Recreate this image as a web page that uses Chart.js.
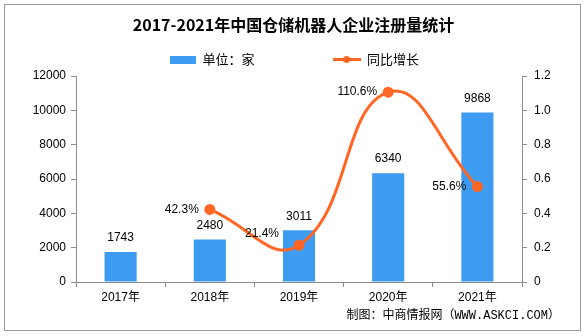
<!DOCTYPE html>
<html>
<head>
<meta charset="utf-8">
<title>2017-2021年中国仓储机器人企业注册量统计</title>
<script src="https://cdn.jsdelivr.net/npm/chart.js@4.4.1/dist/chart.umd.min.js"></script>
<style>
  html, body { margin: 0; padding: 0; background: #fff; }
</style>
</head>
<body>
<canvas id="grafico" width="587" height="336"></canvas>
<script>
const years = ['2017年', '2018年', '2019年', '2020年', '2021年'];
const companies = [1743, 2480, 3011, 6340, 9868];
const growth = [null, 0.423, 0.214, 1.106, 0.556];

const BLUE = '#3d9cf2';
const ORANGE = '#ff6624';
const AXIS = '#8c8c8c';
const FONT = '"Liberation Sans", "Noto Sans CJK SC", sans-serif';
const CJK = '"Noto Sans CJK SC", sans-serif';

// little pictures used as legend markers (bar swatch / line with dot)
function legendIcon(kind) {
    const c = document.createElement('canvas');
    const g = c.getContext('2d');
    if (kind === 'bar') {
        c.width = 28; c.height = 8;
        g.fillStyle = BLUE;
        g.fillRect(2, 0, 26, 8);
    } else {
        c.width = 28; c.height = 9;
        g.strokeStyle = ORANGE;
        g.lineWidth = 3;
        g.beginPath(); g.moveTo(0, 4.5); g.lineTo(28, 4.5); g.stroke();
        g.fillStyle = ORANGE;
        g.beginPath(); g.arc(14, 4.5, 3.5, 0, Math.PI * 2); g.fill();
    }
    return c;
}
const barIcon = legendIcon('bar');
const lineIcon = legendIcon('line');

const valueLabels = {
    id: 'valueLabels',
    afterDatasetsDraw(chart) {
        const ctx = chart.ctx;
        ctx.save();
        ctx.font = '12px ' + FONT;
        ctx.fillStyle = '#000';
        ctx.textBaseline = 'middle';

        ctx.textAlign = 'center';
        chart.getDatasetMeta(0).data.forEach((bar, i) => {
            ctx.fillText(String(companies[i]), bar.x, bar.y - 14);
        });

        ctx.textAlign = 'right';
        chart.getDatasetMeta(1).data.forEach((pt, i) => {
            if (growth[i] == null) return;
            // 2019 label sits a bit higher, clear of the curve
            const up = i === 2 ? 12 : 0;
            const gap = i === 2 ? 20 : 11;
            ctx.fillText((growth[i] * 100).toFixed(1) + '%', pt.x - gap, pt.y - up);
        });
        ctx.restore();
    }
};

const frame = {
    id: 'frame',
    afterDraw(chart) {
        const ctx = chart.ctx;
        ctx.save();
        ctx.strokeStyle = '#9a9a9a';
        ctx.lineWidth = 1;
        ctx.strokeRect(4.5, 4.5, 576, 326);
        ctx.restore();
    }
};

new Chart(document.getElementById('grafico'), {
    type: 'bar',
    data: {
        labels: years,
        datasets: [
            {
                type: 'bar',
                label: '单位：家',
                data: companies,
                backgroundColor: BLUE,
                barPercentage: 0.36,
                categoryPercentage: 1,
                yAxisID: 'y',
                order: 1
            },
            {
                type: 'line',
                label: '同比增长',
                data: growth,
                borderColor: ORANGE,
                backgroundColor: ORANGE,
                borderWidth: 3,
                pointRadius: 4,
                pointHoverRadius: 4,
                tension: 0.45,
                yAxisID: 'y1',
                order: 0
            }
        ]
    },
    options: {
        responsive: false,
        animation: false,
        layout: { padding: { left: 27, right: 27, top: 0, bottom: 0 } },
        plugins: {
            title: {
                display: true,
                text: '2017-2021年中国仓储机器人企业注册量统计',
                color: '#000',
                font: { family: CJK, size: 16, weight: 'bold' },
                padding: { top: 15, bottom: 5.8 }
            },
            legend: {
                labels: {
                    usePointStyle: true,
                    pointStyleWidth: 28,
                    padding: 13,
                    color: '#000',
                    font: { family: CJK, size: 13 },
                    sort: (a, b) => a.datasetIndex - b.datasetIndex,
                    generateLabels(chart) {
                        const items = Chart.defaults.plugins.legend.labels.generateLabels(chart);
                        items.forEach(item => {
                            if (item.datasetIndex === 0) {
                                item.pointStyle = barIcon;
                                item.text = item.text + '\u3000\u3000\u3000\u3000\u3000';
                            } else {
                                item.pointStyle = lineIcon;
                            }
                        });
                        return items;
                    }
                }
            },
            subtitle: {
                display: true,
                position: 'bottom',
                align: 'end',
                text: '制图：中商情报网（WWW.ASKCI.COM）',
                color: '#000',
                font: { family: '"Liberation Mono", "Noto Sans CJK SC", monospace', size: 12 },
                padding: { top: 0, bottom: 13.1 }
            },
            tooltip: { enabled: false }
        },
        scales: {
            x: {
                grid: { drawOnChartArea: false, tickLength: 5, color: AXIS },
                border: { color: AXIS },
                ticks: { color: '#000', font: { family: FONT, size: 12 }, padding: 3 },
                afterFit(scale) { scale.height = 26.5; }
            },
            y: {
                position: 'left',
                min: 0,
                max: 12000,
                grid: { drawOnChartArea: false, tickLength: 5, color: AXIS },
                border: { color: AXIS },
                ticks: {
                    stepSize: 2000,
                    color: '#000',
                    padding: 5,
                    font: { family: FONT, size: 12 },
                    callback: v => String(v)
                },
                afterFit(scale) { scale.width = 49; }
            },
            y1: {
                position: 'right',
                min: 0,
                max: 1.2,
                grid: { drawOnChartArea: false, tickLength: 5, color: AXIS },
                border: { color: AXIS },
                ticks: {
                    stepSize: 0.2,
                    color: '#000',
                    padding: 7,
                    font: { family: FONT, size: 12 }
                },
                afterFit(scale) { scale.width = 38; }
            }
        }
    },
    plugins: [valueLabels, frame]
});
</script>
</body>
</html>
